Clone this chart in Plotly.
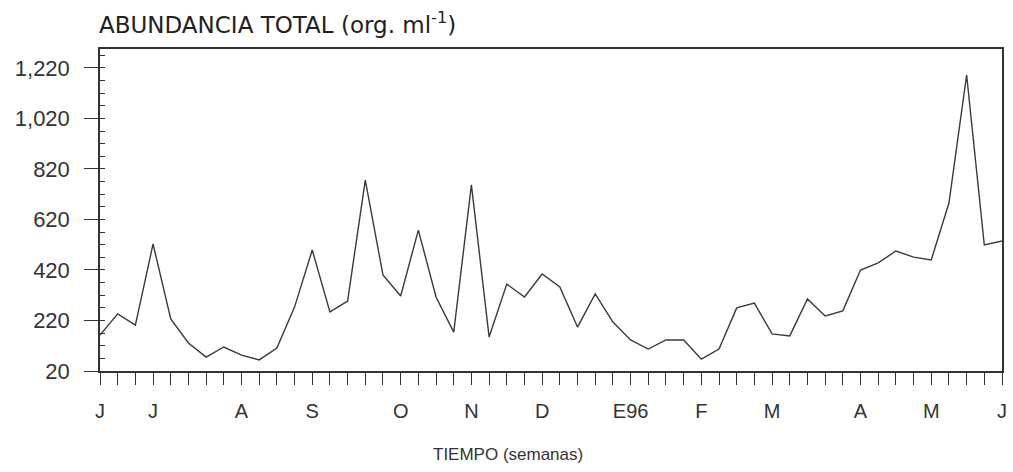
import plotly.graph_objects as go

weeks = list(range(52))
abundance = [162, 246, 202, 523, 226, 131, 75, 115, 83, 64, 111, 273, 499, 254, 297, 776,
             400, 317, 578, 313, 174, 757, 155, 364, 313, 404, 353, 194, 325, 214, 143, 107,
             143, 143, 67, 107, 270, 289, 167, 159, 305, 238, 258, 420, 448, 495, 471, 460,
             685, 1192, 519, 535]

label_weeks = [0, 3, 8, 12, 17, 21, 25, 30, 34, 38, 43, 47, 51]
label_texts = ["J", "J", "A", "S", "O", "N", "D", "E96", "F", "M", "A", "M", "J"]
y_ticks = [20, 220, 420, 620, 820, 1020, 1220]
y_ticktext = ["20", "220", "420", "620", "820", "1,020", "1,220"]

x_ticktext = []
for w in weeks:
    x_ticktext.append(label_texts[label_weeks.index(w)] if w in label_weeks else "")

FONT = "Liberation Sans, Arial, sans-serif"

fig = go.Figure()
fig.add_trace(go.Scatter(x=weeks, y=abundance, mode="lines",
                         line=dict(color="#3a3a3a", width=1.4), showlegend=False))

fig.update_layout(
    width=1013, height=472,
    margin=dict(l=100, r=6, t=49, b=101),
    paper_bgcolor="white", plot_bgcolor="white",
    font=dict(family=FONT, color="#333333"),
    xaxis=dict(range=[0, 51], tickvals=weeks, ticktext=x_ticktext,
               ticks="outside", ticklen=12, tickwidth=1.3, tickcolor="#333333",
               showline=True, linecolor="#333333", linewidth=1.5, mirror=True,
               showgrid=False, zeroline=False, ticklabelstandoff=9,
               tickfont=dict(size=20, color="#333333")),
    yaxis=dict(range=[20, 1295], tickvals=y_ticks, ticktext=y_ticktext,
               ticks="outside", ticklen=14, tickwidth=1.3, tickcolor="#333333",
               showline=True, linecolor="#333333", linewidth=1.5, mirror=True,
               showgrid=False, zeroline=False, ticklabelstandoff=10,
               tickfont=dict(size=22, color="#333333"),
               minor=dict(ticks="inside", ticklen=5, tickwidth=1.2, tickcolor="#333333",
                          tick0=20, dtick=50, showgrid=False)),
    annotations=[
        dict(text="ABUNDANCIA TOTAL (org. ml<sup>-1</sup>)", xref="paper", yref="paper",
             x=-0.003, y=1.0, xanchor="left", yanchor="bottom", yshift=9, showarrow=False,
             font=dict(size=23, family="DejaVu Sans, sans-serif", color="#222222")),
        dict(text="TIEMPO (semanas)", xref="paper", yref="paper",
             x=0.452, y=0, xanchor="center", yanchor="top", yshift=-72, showarrow=False,
             font=dict(size=17, family=FONT, color="#333333")),
    ],
)

fig.write_html("out.html")
